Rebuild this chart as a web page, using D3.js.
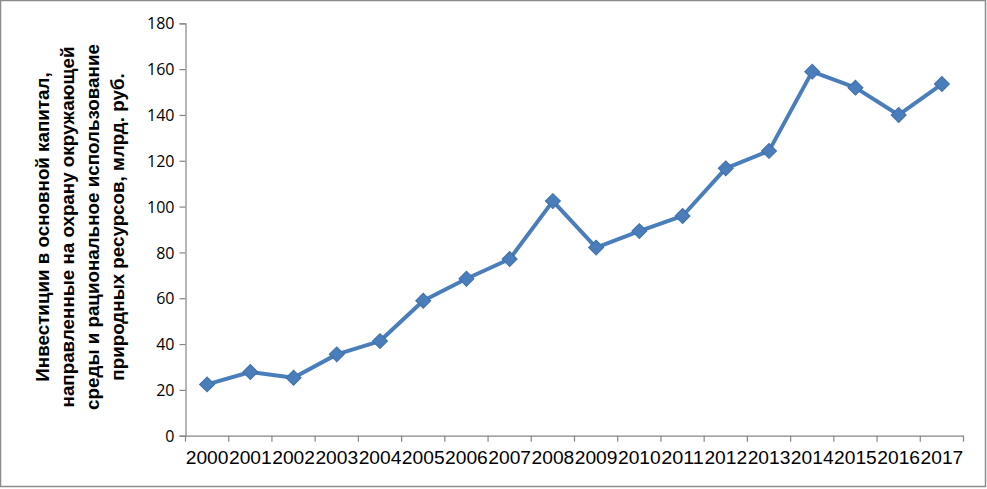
<!DOCTYPE html>
<html><head><meta charset="utf-8">
<script src="https://cdn.jsdelivr.net/npm/d3@7"></script>
<style>
html,body{margin:0;padding:0;background:#fff;}
svg{display:block;}
</style></head>
<body>
<svg id="chart" width="987" height="489"></svg>
<script>
const years = ["2000","2001","2002","2003","2004","2005","2006","2007","2008","2009","2010","2011","2012","2013","2014","2015","2016","2017"];
const values = [22.4,27.8,25.3,35.5,41.3,58.9,68.5,77.1,102.4,82.1,89.3,95.9,116.7,124.3,158.9,151.9,140.0,153.5];
const yTicks = [0,20,40,60,80,100,120,140,160,180];
const titleLines = ["Инвестиции в основной капитал,","направленные на охрану окружающей","среды и рациональное использование","природных ресурсов, млрд. руб."];

const W = 987, H = 489;
const m = {left:185.5, right:23.5, top:23.3, bottom:53.3};
const svg = d3.select("#chart");
const font = "'Liberation Sans Narrow','Liberation Sans',Arial,sans-serif";
const axisColor = "#868686";

// outer border
svg.append("rect").attr("x",0.5).attr("y",0.5).attr("width",W-2).attr("height",H-3)
  .attr("fill","#fff").attr("stroke","#8c8c8c").attr("stroke-width",1.5);

const x = d3.scaleBand().domain(years).range([m.left, W-m.right]).padding(0);
const y = d3.scaleLinear().domain([0,180]).range([H-m.bottom, m.top]);

// y axis
const yAxis = svg.append("g").attr("transform",`translate(${m.left},0)`)
  .call(d3.axisLeft(y).tickValues(yTicks).tickSize(6).tickPadding(5));
yAxis.select(".domain").attr("stroke",axisColor).attr("stroke-width",1.2);
yAxis.selectAll(".tick line").attr("stroke",axisColor).attr("stroke-width",1.2);
yAxis.selectAll(".tick text").attr("font-family","'Open Sans','Liberation Sans',sans-serif")
  .attr("font-size",16).attr("fill","#000").attr("dy","0.35em");

// x axis
const xAxis = svg.append("g").attr("transform",`translate(0,${y(0)})`)
  .call(d3.axisBottom(x).tickSize(0).tickSizeOuter(0).tickPadding(16));
xAxis.select(".domain").attr("stroke",axisColor).attr("stroke-width",1.2);
xAxis.selectAll(".tick text").attr("font-family",font).attr("font-size",17.5).attr("fill","#000")
  .attr("textLength",x.bandwidth()-0.5).attr("lengthAdjust","spacingAndGlyphs");
const bounds = years.map(d=>x(d)).concat([x.range()[1]]);
xAxis.selectAll("line.bt").data(bounds).enter().append("line").attr("class","bt")
  .attr("x1",d=>d).attr("x2",d=>d).attr("y1",0).attr("y2",6)
  .attr("stroke",axisColor).attr("stroke-width",1.2);

// line
const color = "#4a7ebb";
const line = d3.line().x((d,i)=>x(years[i])+x.bandwidth()/2).y(d=>y(d));
svg.append("path").datum(values).attr("d",line).attr("fill","none")
  .attr("stroke",color).attr("stroke-width",4).attr("stroke-linejoin","round");

// markers
const sym = d3.symbol().type(d3.symbolSquare).size(112);
svg.selectAll("path.mk").data(values).enter().append("path").attr("class","mk")
  .attr("d",sym)
  .attr("transform",(d,i)=>`translate(${x(years[i])+x.bandwidth()/2},${y(d)}) rotate(45)`)
  .attr("fill",color).attr("stroke","#3f6fa8").attr("stroke-width",1);

// title
const cy = 227;
const tg = svg.append("g").attr("transform",`translate(42,${cy}) rotate(-90)`);
titleLines.forEach((t,i)=>{
  tg.append("text").attr("x",0).attr("y",i*25).attr("dy","0.35em")
    .attr("text-anchor","middle").attr("font-family",font).attr("font-weight","bold")
    .attr("font-size",18.8).attr("fill","#000").text(t);
});
</script>
</body></html>
